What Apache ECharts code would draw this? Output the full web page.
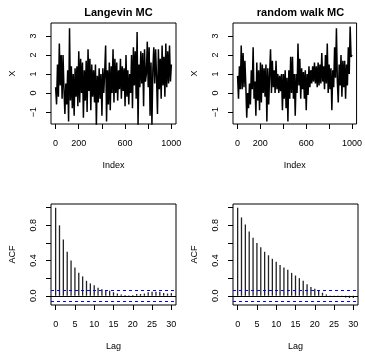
<!DOCTYPE html>
<html><head><meta charset="utf-8">
<script src="https://cdn.jsdelivr.net/npm/echarts@6/dist/echarts.min.js"></script>
<style>html,body{margin:0;padding:0;background:#fff}#c{width:365px;height:352px}</style>
</head><body><div id="c"></div>
<script>
// ---- data ----
const panelTitles = ['Langevin MC', 'random walk MC'];
const seriesLength = 1000;
// Langevin MC chain, sampled along the trace (peaks / troughs)
const langevinX = [
  0.3, -0.6, 1.5, -0.2, 2.6, 0.4,
  2.0, -0.3, 2.0, 0.2, -1.1, 0.5, -0.6,
  1.2, -1.5, 3.4, -0.4,
  1.4, -0.8, 1.0, -1.2, 1.3, -0.2, 1.4, -0.7, 2.2,
  -0.5, 1.8, 0.0, 1.6, -1.3, 1.2, -0.4, 1.7, -1.0,
  2.3, 0.1, 1.8, -0.9, 1.5, -0.2, 1.2, -0.5,
  1.5, -1.7, 0.9, -0.5, 1.3, -0.3,
  1.0, -1.2, 1.3, 0.0, 1.1,
  2.5, -1.5, 1.2, -0.6, 1.6, -0.9, 1.4, 0.0,
  2.3, -0.5, 1.8, 0.0,
  1.6, -0.4, 1.2, 0.2, 1.8, -0.3, 1.4, 0.1,
  1.3, -0.7, 2.0, -0.2, 1.2, -0.6, 1.0, 0.0,
  2.0, -0.8, 2.4, 0.4, 2.2, -0.3, 3.2,
  -1.7,
  1.5, 0.3, 2.2, 0.5, 2.1, -0.7, 2.3, 0.6, 1.0,
  2.7,
  0.3, 2.4, -1.2, 1.6,
  -1.7,
  1.2, 2.4, 0.5, 2.3, 0.8,
  -1.1, 2.3, 0.2, 1.8,
  -0.3, 2.5, 0.4, 1.9, -0.2,
  2.6, 0.3, 2.2, 0.5,
  2.5, 0.6, 1.5
];
// random walk MC chain
const randomWalkX = [
  0.9, -0.3, 1.4, 0.2, 2.5,
  0.2, 2.1, 0.3, 1.7, 0.4,
  -1.3, 0.0, -0.8, 0.5, -0.6,
  1.2, 0.2, 2.4,
  -0.3, 0.6, -1.2,
  1.6, -0.4, 1.2, -0.9, 1.6,
  -0.5, 1.5, 0.0, 1.3,
  -0.2, 1.5, -1.5,
  1.3, -0.6, 1.0, 2.3, 0.0, 1.7,
  0.3, 1.2, 0.0, 1.7, 0.2,
  1.0, 0.0, 0.9, 0.1, 1.0,
  -0.9, 1.0, -0.3, 1.2, -0.8,
  0.8, -1.5, 1.2, -0.3, 1.9,
  0.0, 1.9, -0.3, 1.0, -1.2,
  1.0, 0.0, 2.6, 0.4, 1.8,
  -0.3, 1.3, 0.2, 1.1, -0.3, 1.2,
  -0.9, 1.0, -0.1, 1.4, 0.3,
  1.2, 0.5, 1.4, 0.6, 1.6,
  0.5, 1.4, 0.3, 1.6, 0.4, 1.5,
  0.5, 2.1, 0.6, 1.4, 0.2, 2.0,
  0.5, 2.6, 0.0,
  1.5, 0.2, 1.3, -0.9, 1.2,
  0.3, 2.4, 0.8, 3.4, 0.6,
  -0.5, 1.5, 0.4, 2.0,
  -0.2, 1.7, 0.3, 1.7, -0.3,
  1.5, 0.4, 2.4, 1.0,
  3.5, 1.9, 2.0
];
const acfLags = [0,1,2,3,4,5,6,7,8,9,10,11,12,13,14,15,16,17,18,19,20,21,22,23,24,25,26,27,28,29,30];
const acfLangevin = [1.0,0.80,0.64,0.50,0.40,0.32,0.26,0.22,0.17,0.14,0.12,0.09,0.075,0.064,0.057,0.04,0.025,0.015,0.01,0.005,0.01,0.02,0.02,0.025,0.04,0.045,0.045,0.045,0.03,0.025,0.03];
const acfRandomWalk = [1.0,0.89,0.81,0.73,0.66,0.60,0.55,0.50,0.46,0.42,0.385,0.35,0.32,0.295,0.26,0.23,0.20,0.17,0.13,0.10,0.08,0.057,0.034,0.015,0.004,-0.01,-0.01,-0.015,-0.02,-0.025,-0.025];
const ciBound = 0.062;
const indexTicks = [0,200,400,600,800,1000];
const indexLabels = [0,200,600,1000];
const xValueTicks = [-1,0,1,2,3];
const lagTicks = [0,5,10,15,20,25,30];
const acfTicks = [0,0.2,0.4,0.6,0.8,1.0];
const acfLabels = [0,0.4,0.8];

// ---- build ----
const FONT = 'Liberation Sans, Arial, Helvetica, sans-serif';
const chart = echarts.init(document.getElementById('c'), null, {renderer: 'canvas'});
function toPairs(vals) {
  const n = vals.length;
  return vals.map((v, k) => [1 + k * (seriesLength - 1) / (n - 1), v]);
}
function minusFmt(v, dec) {
  const s = dec ? Number(v).toFixed(dec) : String(v);
  return s.replace('-', '\u2212');
}
const grids = [
  {left: 51, top: 23, width: 125, height: 101},
  {left: 233, top: 23, width: 125, height: 101},
  {left: 51, top: 204, width: 125, height: 103},
  {left: 233, top: 204, width: 125, height: 103}
].map(g => Object.assign(g, {show: true, borderColor: '#000', borderWidth: 1, backgroundColor: 'transparent'}));

function xAx(i, min, max, ticks, labels, name) {
  return {
    type: 'value', gridIndex: i, min: min, max: max, position: 'bottom',
    axisLine: {show: false, onZero: false},
    axisTick: {show: true, length: 5, customValues: ticks, lineStyle: {color: '#000', width: 1}},
    axisLabel: {customValues: labels, color: '#000', fontSize: 9, fontFamily: FONT, margin: 15,
      formatter: v => minusFmt(v)},
    splitLine: {show: false},
    name: name, nameLocation: 'middle', nameGap: 37,
    nameTextStyle: {color: '#000', fontSize: 9, fontFamily: FONT}
  };
}
function yAx(i, min, max, ticks, labels, name, dec) {
  return {
    type: 'value', gridIndex: i, min: min, max: max, position: 'left',
    axisLine: {show: false, onZero: false},
    axisTick: {show: true, length: 5, customValues: ticks, lineStyle: {color: '#000', width: 1}},
    axisLabel: {customValues: labels, color: '#000', fontSize: 9, fontFamily: FONT, margin: 13, rotate: 90,
      formatter: v => minusFmt(v, dec)},
    splitLine: {show: false},
    name: name, nameLocation: 'middle', nameGap: 34, nameRotate: 90,
    nameTextStyle: {color: '#000', fontSize: 9, fontFamily: FONT}
  };
}
const yTopMin = -1.63, yTopMax = 3.68;
const acfMin = -0.105, acfMax = 1.0425;
const option = {
  animation: false,
  backgroundColor: '#fff',
  title: panelTitles.map((t, i) => ({
    text: t, left: grids[i].left + grids[i].width / 2, top: 2, textAlign: 'center',
    textStyle: {fontSize: 11, fontWeight: 'bold', color: '#000', fontFamily: FONT}
  })),
  grid: grids,
  xAxis: [
    xAx(0, -39, 1040, indexTicks, indexLabels, 'Index'),
    xAx(1, -39, 1040, indexTicks, indexLabels, 'Index'),
    xAx(2, -1.2, 31.2, lagTicks, lagTicks, 'Lag'),
    xAx(3, -1.2, 31.2, lagTicks, lagTicks, 'Lag')
  ],
  yAxis: [
    yAx(0, yTopMin, yTopMax, xValueTicks, xValueTicks, 'X'),
    yAx(1, yTopMin, yTopMax, xValueTicks, xValueTicks, 'X'),
    yAx(2, acfMin, acfMax, acfTicks, acfLabels, 'ACF', 1),
    yAx(3, acfMin, acfMax, acfTicks, acfLabels, 'ACF', 1)
  ],
  series: [
    {type: 'line', xAxisIndex: 0, yAxisIndex: 0, data: toPairs(langevinX), showSymbol: false, clip: true,
      lineStyle: {color: '#000', width: 1.5}},
    {type: 'line', xAxisIndex: 1, yAxisIndex: 1, data: toPairs(randomWalkX), showSymbol: false, clip: true,
      lineStyle: {color: '#000', width: 1.5}}
  ].concat([acfLangevin, acfRandomWalk].map((vals, j) => ({
    type: 'bar', xAxisIndex: 2 + j, yAxisIndex: 2 + j, barWidth: 1.3,
    data: acfLags.map((l, k) => [l, vals[k]]),
    itemStyle: {color: '#222'},
    markLine: {
      silent: true, symbol: ['none', 'none'], label: {show: false}, animation: false,
      data: [
        {yAxis: 0, lineStyle: {color: '#000', type: 'solid', width: 1}},
        {yAxis: ciBound, lineStyle: {color: '#0000ff', type: [3, 3], width: 1}},
        {yAxis: -ciBound, lineStyle: {color: '#0000ff', type: [3, 3], width: 1}}
      ]
    }
  })))
};
chart.setOption(option);
</script></body></html>
